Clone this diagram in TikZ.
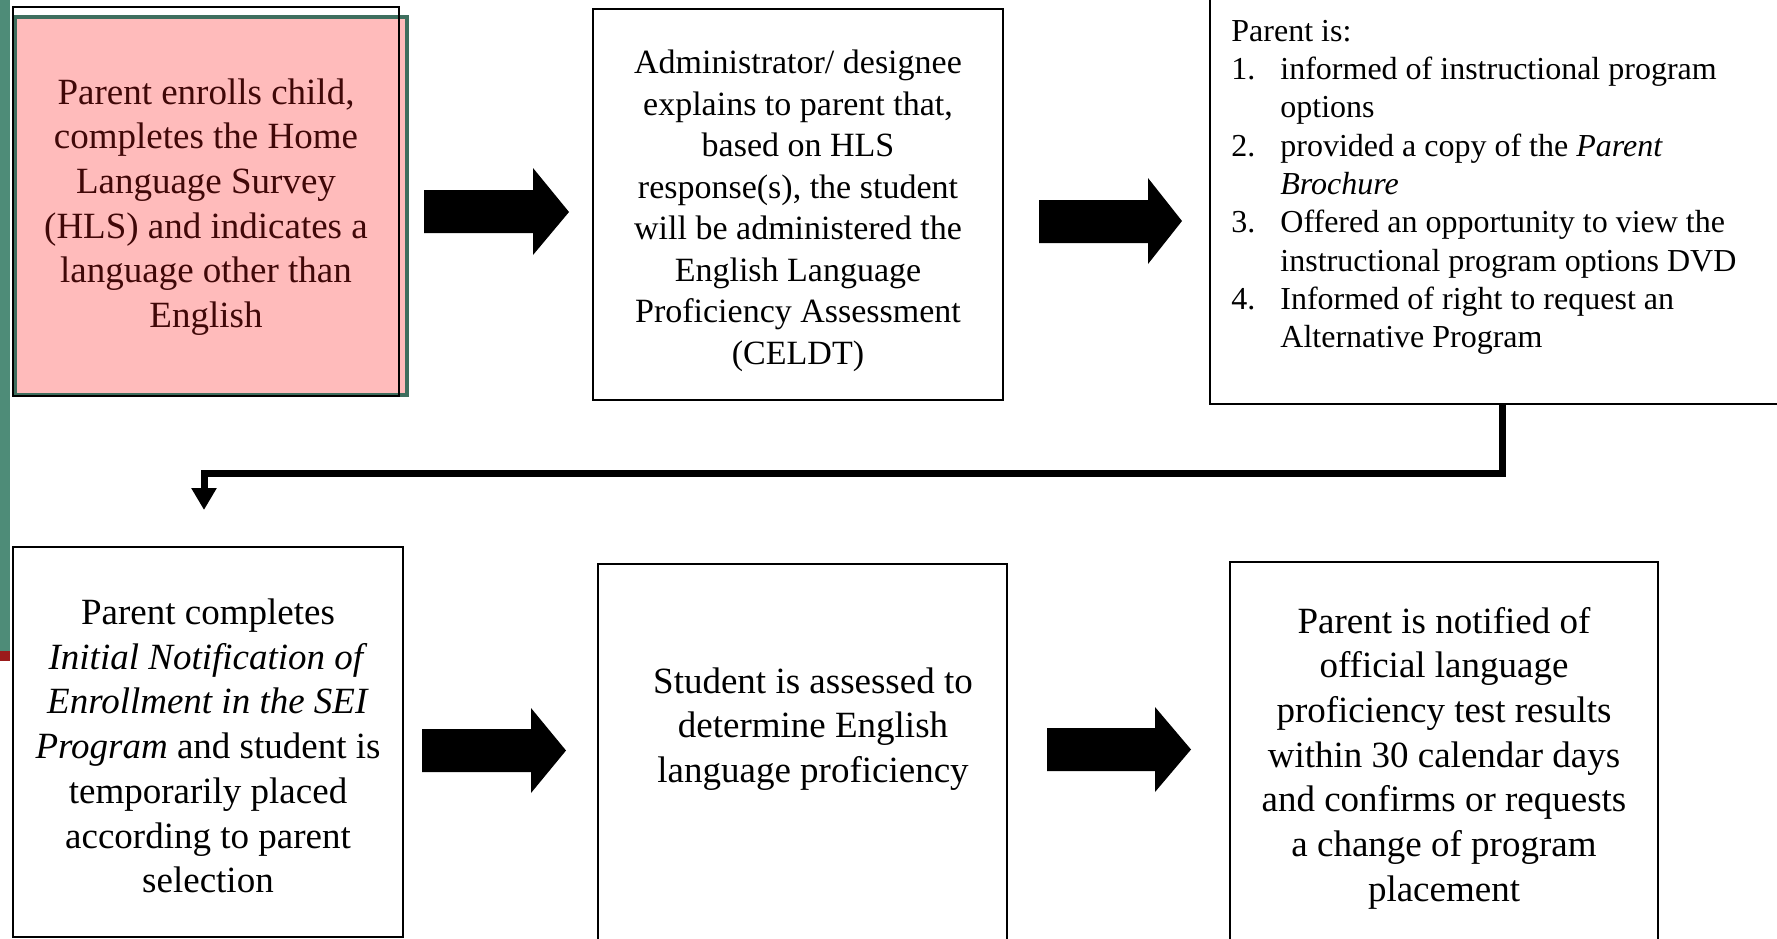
\documentclass[tikz,border=0pt]{standalone}
\usepackage{fontspec}
\setmainfont{Liberation Serif}
\usetikzlibrary{arrows.meta}

\definecolor{barGreen}{RGB}{78,140,120}
\definecolor{edgeGreen}{RGB}{62,110,94}
\definecolor{barRed}{RGB}{155,27,27}
\definecolor{enrollPink}{RGB}{255,187,187}
\definecolor{enrollText}{RGB}{64,8,8}

\tikzset{
  stepbox/.style={draw=black, line width=0.75pt, fill=white, inner sep=0pt},
  steptext/.style={align=center, inner sep=0pt},
  bigtext/.style={font=\fontsize{18.5pt}{22.35pt}\selectfont},
  blockarrow/.style={fill=black},
  flow/.style={line width=3.5pt, -{Triangle[width=12pt,length=11pt]}}
}

\begin{document}
\begin{tikzpicture}[x=0.5pt, y=-0.5pt]
  \useasboundingbox (0,0) rectangle (1777,938);
  \clip (0,0) rectangle (1777,938);
  \fill[white] (0,0) rectangle (1777,938);
  % slide edge
  \fill[barGreen] (0,0) rectangle (10,651);
  \fill[barRed] (0,651) rectangle (10,661);

  % top row
  \node[stepbox, fill=enrollPink, draw=edgeGreen, line width=2pt,
        minimum width=196pt, minimum height=189pt] (enroll) at (211,206) {};
  \draw[black, line width=0.75pt] (13,7) rectangle (399,396);
  \node[steptext, bigtext, text=enrollText] (enrolltext) at (206,207)
    {Parent enrolls child,\\ completes the Home\\ Language Survey\\ (HLS) and indicates a\\ language other than\\ English};

  \node[stepbox, minimum width=205pt, minimum height=195.5pt] (explain) at (798,204.5) {};
  \node[steptext, font=\fontsize{17pt}{20.75pt}\selectfont] (explaintext) at (798,211)
    {Administrator/ designee\\ explains to parent that,\\ based on HLS\\ response(s), the student\\ will be administered the\\ English Language\\ Proficiency Assessment\\ (CELDT)};

  \node[stepbox, minimum width=290pt, minimum height=207pt] (inform) at (1500,197) {};
  \node[anchor=north west, inner sep=0pt, font=\fontsize{16pt}{19.15pt}\selectfont] (informlist) at (1231,14)
    {\begin{tabular}{@{}p{24.5pt}@{}l@{}}
      \multicolumn{2}{@{}l@{}}{Parent is:}\\
      1. & informed of instructional program\\
         & options\\
      2. & provided a copy of the \textit{Parent}\\
         & \textit{Brochure}\\
      3. & Offered an opportunity to view the\\
         & instructional program options DVD\\
      4. & Informed of right to request an\\
         & Alternative Program
    \end{tabular}};

  \fill[blockarrow] (424,190) -- (533,190) -- (533,168) -- (569,212) -- (533,255) -- (533,233) -- (424,233) -- cycle;
  \fill[blockarrow] (1039,200) -- (1148,200) -- (1148,178) -- (1182,221) -- (1148,264) -- (1148,243) -- (1039,243) -- cycle;

  % turn to second row
  \coordinate (bend) at (1502,473);
  \coordinate (drop) at (204,510);
  \draw[flow] (bend |- inform.south) -- (bend) -| (drop);

  % bottom row
  \node[stepbox, minimum width=195pt, minimum height=195pt] (complete) at (208,742) {};
  \node[steptext, bigtext] (completetext) at (208,746)
    {Parent completes\\ \textit{Initial Notification of}\\ \textit{Enrollment in the SEI}\\ \textit{Program} and student is\\ temporarily placed\\ according to parent\\ selection};

  \node[stepbox, minimum width=204.5pt, minimum height=198pt] (assess) at (802.5,762) {};
  \node[steptext, bigtext] (assesstext) at (813,729)
    {Student is assessed to\\ determine English\\ language proficiency};

  \node[stepbox, minimum width=214pt, minimum height=199pt] (notify) at (1444,761) {};
  \node[steptext, bigtext] (notifytext) at (1444,758)
    {Parent is notified of\\ official language\\ proficiency test results\\ within 30 calendar days\\ and confirms or requests\\ a change of program\\ placement};

  \fill[blockarrow] (422,729) -- (531,729) -- (531,708) -- (566,750.5) -- (531,793) -- (531,772) -- (422,772) -- cycle;
  \fill[blockarrow] (1047,728) -- (1155,728) -- (1155,707) -- (1191,749.5) -- (1155,792) -- (1155,771) -- (1047,771) -- cycle;
\end{tikzpicture}
\end{document}
